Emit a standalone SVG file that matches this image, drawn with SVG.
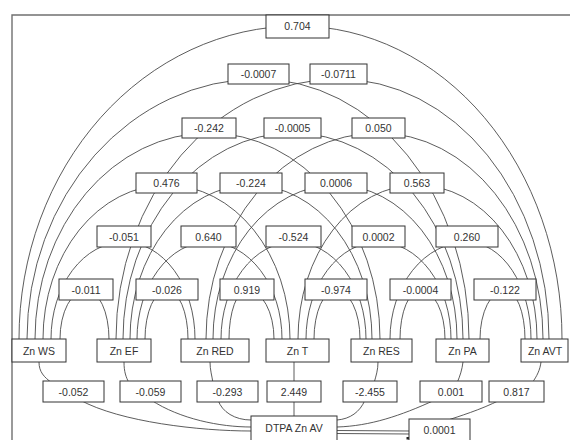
<svg xmlns="http://www.w3.org/2000/svg" width="570" height="440" viewBox="0 0 570 440">
<style>
.bg{fill:#fff}
.frame{fill:none;stroke:#707070;stroke-width:1.4}
.c{fill:none;stroke:#4a4a4a;stroke-width:0.9}
.b{fill:#fff;stroke:#333;stroke-width:1}
.t{font-family:"Liberation Sans",Arial,sans-serif;font-size:10.5px;fill:#333;text-anchor:middle}
</style>
<rect class="bg" x="0" y="0" width="570" height="440"/>
<path class="frame" d="M12 440V15H570"/>
<g id="connectors">
<path class="c" d="M60 339A26 49 0 0 1 86 290A23 49 0 0 1 109 339"/>
<path class="c" d="M145 339A22 49 0 0 1 167 290A21 49 0 0 1 188 339"/>
<path class="c" d="M229 339A18 49 0 0 1 247 290A27 49 0 0 1 274 339"/>
<path class="c" d="M314 339A22 49 0 0 1 336 290A24 49 0 0 1 360 339"/>
<path class="c" d="M400 339A20.5 49 0 0 1 420.5 290A24.5 49 0 0 1 445 339"/>
<path class="c" d="M480 339A25 49 0 0 1 505 290A20 49 0 0 1 525 339"/>
<path class="c" d="M51 339A73 97 0 0 1 124 242A71 97 0 0 1 195 339"/>
<path class="c" d="M137 339A71.5 97 0 0 1 208.5 242A73.5 97 0 0 1 282 339"/>
<path class="c" d="M221 339A72.5 97 0 0 1 293.5 242A72.5 97 0 0 1 366 339"/>
<path class="c" d="M306 339A72.5 97 0 0 1 378.5 242A72.5 97 0 0 1 451 339"/>
<path class="c" d="M390 339A77 97 0 0 1 467 242A64 97 0 0 1 531 339"/>
<path class="c" d="M43 339A123.5 154 0 0 1 166.5 185A123.5 154 0 0 1 290 339"/>
<path class="c" d="M130 339A121 154 0 0 1 251 185A121 154 0 0 1 372 339"/>
<path class="c" d="M213 339A123 154 0 0 1 336 185A121 154 0 0 1 457 339"/>
<path class="c" d="M298 339A119 154 0 0 1 417 185A120 154 0 0 1 537 339"/>
<path class="c" d="M35 339A174 206 0 0 1 209 133A171 206 0 0 1 380 339"/>
<path class="c" d="M123 339A169.5 206 0 0 1 292.5 133A170.5 206 0 0 1 463 339"/>
<path class="c" d="M206 339A172.5 206 0 0 1 378.5 133A164.5 206 0 0 1 543 339"/>
<path class="c" d="M27 339A231.5 260 0 0 1 258.5 79A210.5 260 0 0 1 469 339"/>
<path class="c" d="M116 339A222.5 260 0 0 1 338.5 79A210.5 260 0 0 1 549 339"/>
<path class="c" d="M19 339A278.5 313 0 0 1 297.5 26A264.5 313 0 0 1 562 339"/>
<path class="c" d="M39 362C39 372 44 377 52 383"/>
<path class="c" d="M80 400C120 422 200 431 251 431"/>
<path class="c" d="M124 362C124 372 126 377 129 383"/>
<path class="c" d="M151 400C180 419 220 427 251 427"/>
<path class="c" d="M210 362C210 370 212 376 213 383"/>
<path class="c" d="M218 400C222 412 235 420 251 420"/>
<path class="c" d="M294 362V416"/>
<path class="c" d="M378 362C378 370 376 376 374 383"/>
<path class="c" d="M365 400C360 412 350 419 337 420"/>
<path class="c" d="M463 362C462 370 460 376 457 383"/>
<path class="c" d="M435 400C400 416 370 426 337 427"/>
<path class="c" d="M541 362C540 370 537 376 532 383"/>
<path class="c" d="M500 400C480 410 460 416 445 421"/>
<path class="c" d="M410 431L337 430.5"/>
<path class="c" d="M410 434L337 433.5"/>
<rect x="406.5" y="437" width="2.5" height="2.5" fill="#222"/>
</g>
<g id="n-ws"><rect class="b" x="12" y="339" width="54" height="23"/><text class="t" x="39" y="354.5">Zn WS</text></g>
<g id="n-ef"><rect class="b" x="97" y="339" width="54" height="23"/><text class="t" x="124" y="354.5">Zn EF</text></g>
<g id="n-red"><rect class="b" x="181" y="339" width="68" height="23"/><text class="t" x="215" y="354.5">Zn RED</text></g>
<g id="n-t"><rect class="b" x="266" y="339" width="63" height="23"/><text class="t" x="297.5" y="354.5">Zn T</text></g>
<g id="n-res"><rect class="b" x="351" y="339" width="61" height="23"/><text class="t" x="381.5" y="354.5">Zn RES</text></g>
<g id="n-pa"><rect class="b" x="436" y="339" width="53" height="23"/><text class="t" x="462.5" y="354.5">Zn PA</text></g>
<g id="n-avt"><rect class="b" x="521" y="339" width="47" height="23"/><text class="t" x="545" y="354.5">Zn AVT</text></g>
<g id="n-dtpa"><rect class="b" x="251" y="416" width="86" height="30"/><text class="t" x="294" y="432">DTPA Zn AV</text></g>
<g id="r-ws-ef"><rect class="b" x="59" y="279" width="54" height="21"/><text class="t" x="86" y="293.5">-0.011</text></g>
<g id="r-ef-red"><rect class="b" x="136" y="279" width="62" height="21"/><text class="t" x="167" y="293.5">-0.026</text></g>
<g id="r-red-t"><rect class="b" x="220" y="279" width="54" height="21"/><text class="t" x="247" y="293.5">0.919</text></g>
<g id="r-t-res"><rect class="b" x="305" y="279" width="62" height="21"/><text class="t" x="336" y="293.5">-0.974</text></g>
<g id="r-res-pa"><rect class="b" x="390" y="279" width="61" height="21"/><text class="t" x="420.5" y="293.5">-0.0004</text></g>
<g id="r-pa-avt"><rect class="b" x="474" y="279" width="62" height="21"/><text class="t" x="505" y="293.5">-0.122</text></g>
<g id="r-ws-red"><rect class="b" x="97" y="226" width="54" height="21"/><text class="t" x="124" y="240.5">-0.051</text></g>
<g id="r-ef-t"><rect class="b" x="181" y="226" width="55" height="21"/><text class="t" x="208.5" y="240.5">0.640</text></g>
<g id="r-red-res"><rect class="b" x="266" y="226" width="55" height="21"/><text class="t" x="293.5" y="240.5">-0.524</text></g>
<g id="r-t-pa"><rect class="b" x="352" y="226" width="53" height="21"/><text class="t" x="378.5" y="240.5">0.0002</text></g>
<g id="r-res-avt"><rect class="b" x="436" y="226" width="62" height="21"/><text class="t" x="467" y="240.5">0.260</text></g>
<g id="r-ws-t"><rect class="b" x="136" y="173" width="61" height="20"/><text class="t" x="166.5" y="187">0.476</text></g>
<g id="r-ef-res"><rect class="b" x="220" y="173" width="62" height="20"/><text class="t" x="251" y="187">-0.224</text></g>
<g id="r-red-pa"><rect class="b" x="305" y="173" width="62" height="20"/><text class="t" x="336" y="187">0.0006</text></g>
<g id="r-t-avt"><rect class="b" x="390" y="173" width="54" height="20"/><text class="t" x="417" y="187">0.563</text></g>
<g id="r-ws-res"><rect class="b" x="182" y="118" width="54" height="20"/><text class="t" x="209" y="132">-0.242</text></g>
<g id="r-ef-pa"><rect class="b" x="264" y="118" width="57" height="20"/><text class="t" x="292.5" y="132">-0.0005</text></g>
<g id="r-red-avt"><rect class="b" x="352" y="118" width="53" height="20"/><text class="t" x="378.5" y="132">0.050</text></g>
<g id="r-ws-pa"><rect class="b" x="228" y="64" width="61" height="20"/><text class="t" x="258.5" y="78">-0.0007</text></g>
<g id="r-ef-avt"><rect class="b" x="310" y="64" width="57" height="20"/><text class="t" x="338.5" y="78">-0.0711</text></g>
<g id="r-ws-avt"><rect class="b" x="266" y="15" width="63" height="23"/><text class="t" x="297.5" y="30">0.704</text></g>
<g id="p-ws"><rect class="b" x="43" y="381" width="61" height="21"/><text class="t" x="73.5" y="395.5">-0.052</text></g>
<g id="p-ef"><rect class="b" x="120" y="381" width="61" height="21"/><text class="t" x="150.5" y="395.5">-0.059</text></g>
<g id="p-red"><rect class="b" x="197" y="381" width="61" height="21"/><text class="t" x="227.5" y="395.5">-0.293</text></g>
<g id="p-t"><rect class="b" x="267" y="381" width="54" height="21"/><text class="t" x="294" y="395.5">2.449</text></g>
<g id="p-res"><rect class="b" x="343" y="381" width="54" height="21"/><text class="t" x="370" y="395.5">-2.455</text></g>
<g id="p-pa"><rect class="b" x="420" y="381" width="62" height="21"/><text class="t" x="451" y="395.5">0.001</text></g>
<g id="p-avt"><rect class="b" x="489" y="381" width="55" height="21"/><text class="t" x="516.5" y="395.5">0.817</text></g>
<g id="e-0001"><rect class="b" x="409" y="419" width="61" height="26"/><text class="t" x="439.5" y="434">0.0001</text></g>
</svg>
